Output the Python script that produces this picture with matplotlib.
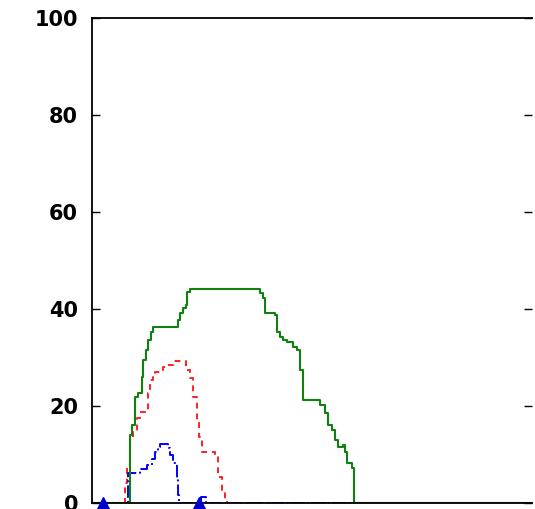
import matplotlib
matplotlib.use("Agg")
import matplotlib.pyplot as plt

# Occupancy curves (percent) over time for three groups
green_x = [0, 8.4, 8.6, 9.1, 9.8, 10.5, 11.4, 11.6, 12.3, 12.7, 13.4, 13.9, 19.5, 20.0,
           20.7, 21.4, 21.6, 22.3, 37.5, 38.2, 38.9, 39.3, 41.6, 42.0, 42.7, 43.4, 44.3,
           45.7, 46.6, 47.3, 48.0, 51.1, 51.8, 53.0, 53.6, 54.5, 55.2, 55.9, 57.0, 57.4,
           58.0, 59.1, 59.5, 100]
green_y = [0, 0, 14.0, 16.1, 21.9, 22.7, 26.0, 29.5, 31.5, 33.6, 35.3, 36.3, 37.7, 39.2,
           40.2, 40.8, 43.5, 44.1, 44.1, 43.3, 42.3, 39.2, 38.8, 35.3, 34.2, 33.6, 33.2,
           32.2, 31.5, 27.4, 21.2, 21.2, 20.2, 18.6, 16.1, 15.1, 13.0, 11.5, 12.0, 10.5,
           8.2, 7.2, 0, 0]

red_x = [0, 7.5, 7.95, 8.6, 9.3, 10.2, 10.9, 12.7, 13.2, 13.9, 14.3, 16.1, 17.0, 18.4,
         21.4, 22.3, 23.0, 23.9, 24.3, 25.0, 28.0, 28.6, 29.5, 30.2, 30.7, 100]
red_y = [0, 4.1, 7.8, 13.0, 15.1, 17.5, 18.8, 22.7, 25.4, 26.0, 27.0, 28.0, 28.5, 29.3,
         27.4, 25.8, 21.9, 17.1, 13.6, 10.5, 9.5, 5.4, 2.7, 0.6, 0, 0]

blue_x = [0, 8.2, 10.9, 12.5, 13.6, 14.3, 15.0, 15.5, 17.3, 17.7, 18.4, 19.3, 19.5,
          19.8, 24.8, 26.0, 100]
blue_y = [0, 6.2, 7.0, 7.8, 9.1, 10.5, 11.5, 12.2, 11.3, 9.9, 8.2, 5.2, 1.6,
          0, 1.2, 0, 0]

# Event markers on the time axis
event_x = [2.5, 24.3]
event_y = [0, 0]

y_ticks = [0, 20, 40, 60, 80, 100]

fig = plt.figure(figsize=(5.35, 5.09), dpi=100)
ax = fig.add_axes([92 / 535, 6 / 509, 440 / 535, 485 / 509])

ax.plot(red_x, red_y, color="#ff2020", lw=1.4, ls=(0, (3, 2.5)), drawstyle="steps-post")
ax.plot(blue_x, blue_y, color="#0000ff", lw=1.4, ls="-.", drawstyle="steps-post")
ax.plot(green_x, green_y, color="#108010", lw=1.5, drawstyle="steps-post")
ax.plot(event_x, event_y, ls="none", marker="^", ms=9, color="#0000cc",
        clip_on=False, zorder=5)

ax.set_xlim(0, 100)
ax.set_ylim(0, 100)
ax.set_yticks(y_ticks)
ax.set_yticklabels([str(v) for v in y_ticks], fontsize=15, fontweight="bold",
                   family="DejaVu Sans")
ax.set_xticks([])
ax.tick_params(axis="y", direction="in", length=6, width=1, pad=10,
               left=True, right=True)
ax.spines["right"].set_visible(False)
for s in ("top", "left", "bottom"):
    ax.spines[s].set_linewidth(1.3)
    ax.spines[s].set_color("black")

fig.savefig("out.png", dpi=100)
